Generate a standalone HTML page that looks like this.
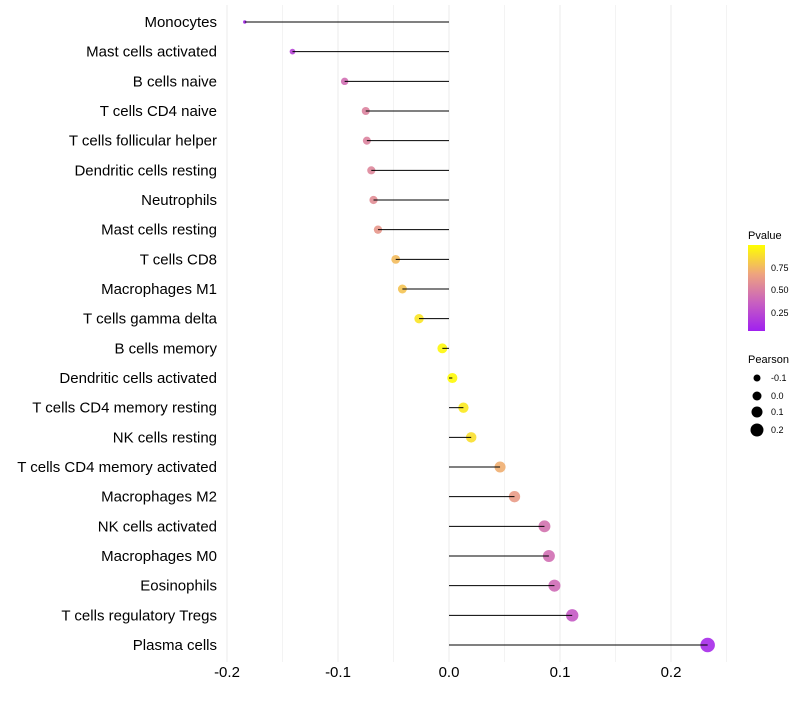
<!DOCTYPE html>
<html><head><meta charset="utf-8"><style>
body{margin:0;background:#fff;font-family:"Liberation Sans",sans-serif}
</style></head><body>
<svg id="chart" width="800" height="700" xmlns="http://www.w3.org/2000/svg">
<g id="grid"></g>
<g id="dots"></g>
<g id="marks"></g>
<g id="ylabels"></g>
<g id="xlabels"></g>
<g>
<defs><linearGradient id="pg" x1="0" y1="1" x2="0" y2="0">
<stop offset="0" stop-color="#a020f0"/><stop offset="0.33" stop-color="#c860c0"/><stop offset="0.66" stop-color="#eea37f"/><stop offset="1" stop-color="#ffff00"/></linearGradient></defs>
<text x="748" y="239" font-size="11" fill="#000">Pvalue</text>
<rect x="748" y="245" width="17" height="86" fill="url(#pg)"/>
<text x="771" y="271" font-size="9">0.75</text>
<text x="771" y="293" font-size="9">0.50</text>
<text x="771" y="316" font-size="9">0.25</text>
</g>
<g>
<text x="748" y="363" font-size="11">Pearson</text>
<circle cx="757" cy="378" r="3.5"/>
<circle cx="757" cy="396" r="4.5"/>
<circle cx="757" cy="412" r="5.5"/>
<circle cx="757" cy="430" r="6.5"/>
<text x="771" y="381" font-size="9">-0.1</text>
<text x="771" y="399" font-size="9">0.0</text>
<text x="771" y="415" font-size="9">0.1</text>
<text x="771" y="433" font-size="9">0.2</text>
</g>
</svg>
<script>
const categories=["Monocytes","Mast cells activated","B cells naive","T cells CD4 naive","T cells follicular helper","Dendritic cells resting","Neutrophils","Mast cells resting","T cells CD8","Macrophages M1","T cells gamma delta","B cells memory","Dendritic cells activated","T cells CD4 memory resting","NK cells resting","T cells CD4 memory activated","Macrophages M2","NK cells activated","Macrophages M0","Eosinophils","T cells regulatory  Tregs","Plasma cells"];
const pearson=[-0.184,-0.141,-0.094,-0.075,-0.074,-0.070,-0.068,-0.064,-0.048,-0.042,-0.027,-0.006,0.003,0.013,0.020,0.046,0.059,0.086,0.090,0.095,0.111,0.233];
const pvalues=[0.04,0.18,0.40,0.50,0.50,0.52,0.55,0.60,0.75,0.78,0.90,0.97,0.98,0.92,0.88,0.70,0.62,0.42,0.40,0.38,0.30,0.05];
const xTicks=[-0.2,-0.1,0.0,0.1,0.2];
const xTickLabels=["-0.2","-0.1","0.0","0.1","0.2"];
const NS="http://www.w3.org/2000/svg";
const xs=v=>449+v*1110;
const ys=i=>22+i*(623/21);
const mn=Math.min(...pearson),mx=Math.max(...pearson);
const rs=v=>Math.sqrt(3+(v-mn)/(mx-mn)*50);
const stops=[[0,[160,32,240]],[0.33,[200,96,192]],[0.66,[238,163,127]],[1,[255,255,0]]];
function col(p){for(let k=1;k<stops.length;k++){if(p<=stops[k][0]||k==stops.length-1){const a=stops[k-1],b=stops[k];let t=(p-a[0])/(b[0]-a[0]);t=Math.max(0,Math.min(1,t));return "rgb("+a[1].map((c,j)=>Math.round(c+(b[1][j]-c)*t)).join(",")+")";}}}
function mk(t,at,parent){const e=document.createElementNS(NS,t);for(const k in at)e.setAttribute(k,at[k]);parent.appendChild(e);return e;}
const grid=document.getElementById('grid'),marks=document.getElementById('marks'),dots=document.getElementById('dots'),yl=document.getElementById('ylabels'),xl=document.getElementById('xlabels');
for(let v=-0.2;v<=0.2501;v+=0.05){const g=mk('line',{x1:xs(v),x2:xs(v),y1:5,y2:662,stroke:'#ebebeb','stroke-width':Math.abs(Math.round(v*20)%2)==1?0.6:1},grid);

}
xTicks.forEach((v,i)=>{const t=mk('text',{x:xs(v),y:677,'font-size':15,'text-anchor':'middle',fill:'#000'},xl);t.textContent=xTickLabels[i];

});
categories.forEach((c,i)=>{const y=ys(i);
const t=mk('text',{x:217,y:y+5,'font-size':15,'text-anchor':'end',fill:'#000'},yl);t.textContent=c;


const d=mk('circle',{cx:xs(pearson[i]),cy:y,r:rs(pearson[i]),fill:col(pvalues[i]),'fill-opacity':0.9},dots);


const l=mk('line',{x1:xs(0),x2:xs(pearson[i]),y1:y,y2:y,stroke:'#000','stroke-width':1},marks);

});
</script>
</body></html>
